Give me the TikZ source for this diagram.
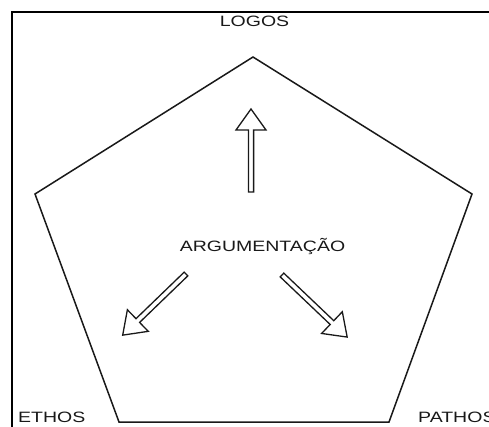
\documentclass[tikz,border=0pt]{standalone}
\usepackage{fontspec}
\setmainfont{Liberation Sans}
\tikzset{
  frameline/.style={line width=2pt, draw=black},
  pentaline/.style={line width=1.5pt, draw=black!90, line join=miter},
  arrowline/.style={line width=1.3pt, draw=black!90, fill=white, line join=miter},
  label/.style={inner sep=0pt, font=\fontsize{15}{15}\selectfont, text=black!90}
}
% hollow block arrow: tail point, direction angle, total length
\newcommand\hollowarrow[3]{%
  \begin{scope}[shift={#1}, rotate=#2]
    \draw[arrowline] (0,-2.6) -- ({#3-21},-2.6) -- ({#3-21},-15) -- (#3,0)
      -- ({#3-21},15) -- ({#3-21},2.6) -- (0,2.6) -- cycle;
  \end{scope}}
\newcommand\wide[1]{\scalebox{1.3}[1]{#1}}
\begin{document}
\begin{tikzpicture}[x=1pt,y=-1pt]
  \useasboundingbox (0,0) rectangle (489,426);
  \clip (0,0) rectangle (489,426);
  \fill[white] (0,0) rectangle (489,426);
  % outer frame, running off the right and bottom edges
  \draw[frameline] (12,12) rectangle (520,460);
  % pentagon
  \coordinate (top) at (253,57);
  \coordinate (right) at (472,194);
  \coordinate (bright) at (389,422);
  \coordinate (bleft) at (119,422);
  \coordinate (left) at (35,194);
  \draw[pentaline] (top) -- (right) -- (bright) -- (bleft) -- (left) -- cycle;
  % labels
  \node[label, anchor=base] (logos) at (254.5,26.5) {\wide{LOGOS}};
  \node[label, anchor=base] (arg) at (262.5,251) {\wide{ARGUMENTAÇÃO}};
  \node[label, anchor=base west] (ethos) at (18,422.5) {\wide{ETHOS}};
  \node[label, anchor=base west] (pathos) at (418,422.5) {\wide{PATHOS}};
  % arrows
  \hollowarrow{(251,192)}{90}{83}
  \hollowarrow{(186,274)}{224}{88}
  \hollowarrow{(282,275)}{-43.6}{90}
\end{tikzpicture}
\end{document}
